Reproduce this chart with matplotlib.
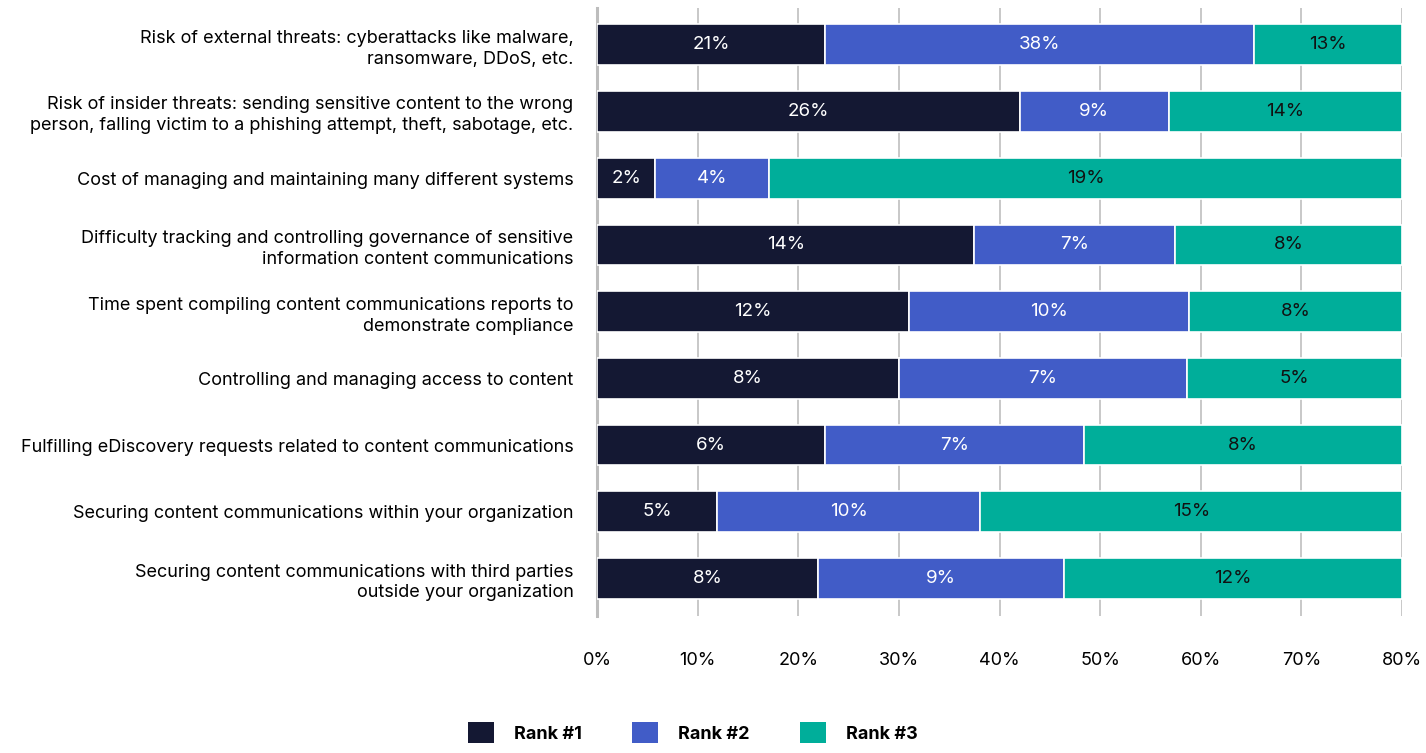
import matplotlib
matplotlib.use("Agg")
import matplotlib.pyplot as plt
import numpy as np
from matplotlib.patches import Patch

plt.rcParams["font.family"] = ["Inter", "DejaVu Sans"]

categories = [
    "Risk of external threats: cyberattacks like malware,\nransomware, DDoS, etc.",
    "Risk of insider threats: sending sensitive content to the wrong\nperson, falling victim to a phishing attempt, theft, sabotage, etc.",
    "Cost of managing and maintaining many different systems",
    "Difficulty tracking and controlling governance of sensitive\ninformation content communications",
    "Time spent compiling content communications reports to\ndemonstrate compliance",
    "Controlling and managing access to content",
    "Fulfilling eDiscovery requests related to content communications",
    "Securing content communications within your organization",
    "Securing content communications with third parties\noutside your organization",
]
series_names = ["Rank #1", "Rank #2", "Rank #3"]

# segment widths as drawn (axis scale, %)
rank1_width = [22.7, 42.0, 5.8, 37.5, 31.0, 30.0, 22.7, 11.9, 22.0]
rank2_width = [42.6, 14.8, 11.3, 19.9, 27.8, 28.6, 25.7, 26.2, 24.4]
rank3_width = [14.7, 23.2, 62.9, 22.6, 21.2, 21.4, 31.6, 41.9, 33.6]

# printed labels
rank1_label = ["21%", "26%", "2%", "14%", "12%", "8%", "6%", "5%", "8%"]
rank2_label = ["38%", "9%", "4%", "7%", "10%", "7%", "7%", "10%", "9%"]
rank3_label = ["13%", "14%", "19%", "8%", "8%", "5%", "8%", "15%", "12%"]

x_ticks = [0, 10, 20, 30, 40, 50, 60, 70, 80]

colors = ["#141833", "#415cc7", "#00ae9a"]
text_colors = ["white", "white", "#111111"]

fig = plt.figure(figsize=(14.26, 7.53), dpi=100)
ax = fig.add_axes([0.4187, 0.182, 0.9832 - 0.4187, 0.9894 - 0.182])

y = np.arange(len(categories))
left = np.zeros(len(categories))
widths = [rank1_width, rank2_width, rank3_width]
labels = [rank1_label, rank2_label, rank3_label]
for i in range(3):
    w = np.array(widths[i])
    bars = ax.barh(y, w, left=left, height=0.61, color=colors[i],
                   edgecolor="white", linewidth=1.2, zorder=3)
    ax.bar_label(bars, labels=labels[i], label_type="center",
                 color=text_colors[i], fontsize=13.5, family=["Inter", "DejaVu Sans"])
    left = left + w

ax.set_xlim(0, 80)
ax.set_ylim(len(categories) - 0.44, -0.55)
ax.set_xticks(x_ticks)
ax.set_xticklabels([f"{t}%" for t in x_ticks], fontsize=13)
ax.set_yticks(y)
ax.set_yticklabels(categories, fontsize=13, linespacing=1.3, multialignment="right")
ax.tick_params(axis="both", length=0)
ax.tick_params(axis="y", pad=17)
ax.tick_params(axis="x", pad=26)
ax.xaxis.grid(True, color="#c8c8c8", linewidth=1.4, zorder=0)
for s in ["top", "right", "bottom"]:
    ax.spines[s].set_visible(False)
ax.spines["left"].set_color("#bdbdbd")
ax.spines["left"].set_linewidth(2.2)

handles = [Patch(facecolor=c, edgecolor="none") for c in colors]
fig.legend(handles, series_names, loc="center", bbox_to_anchor=(0.486, 0.027),
           ncol=3, frameon=False, prop={"size": 13, "weight": "bold"},
           handlelength=1.44, handleheight=1.44, handletextpad=1.1,
           columnspacing=2.8)

fig.savefig("out.png", dpi=100)
